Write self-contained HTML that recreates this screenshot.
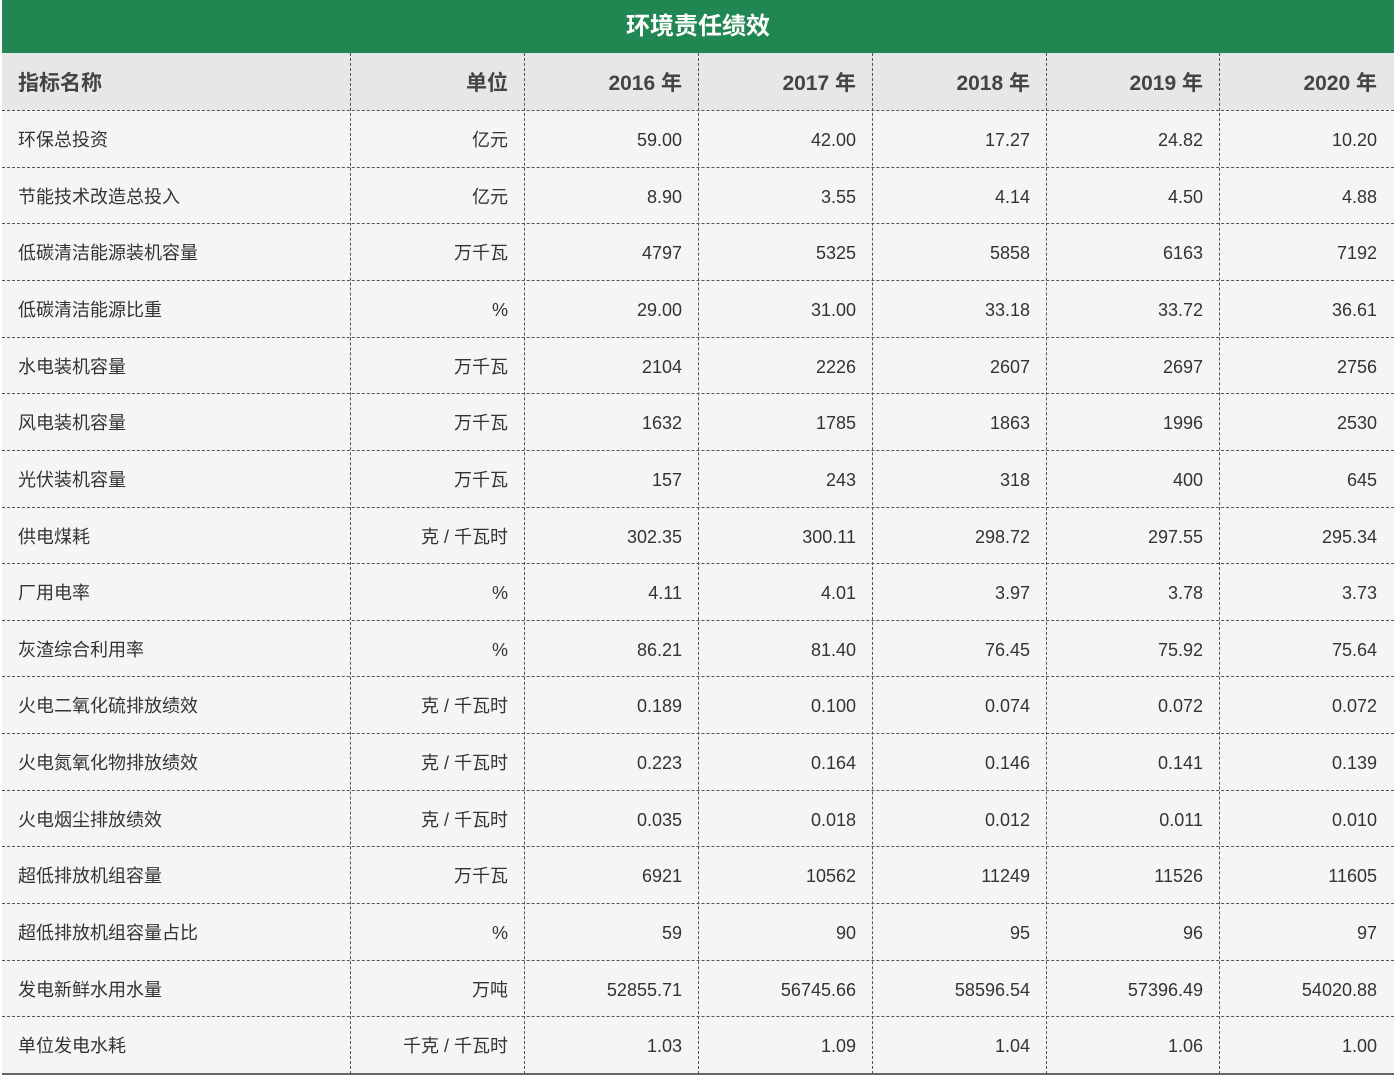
<!DOCTYPE html>
<html><head><meta charset="utf-8"><style>
body{margin:0;width:1394px;height:1080px;background:#fff;font-family:"Liberation Sans","Noto Sans CJK SC",sans-serif;color:#333;position:relative;overflow:hidden}
.t{position:absolute;left:2px;top:0;width:1392px;height:53px;background:#218752;color:#fff;font-weight:bold;font-size:24px;text-align:center;line-height:53px}
.bg{position:absolute;left:2px;width:1392px}
.c{position:absolute;font-size:18px;white-space:nowrap}
.h{font-size:21px;font-weight:bold;color:#444}
.hl{position:absolute;left:2px;width:1392px;height:0;border-top:1px dashed #555}
.vl{position:absolute;top:53px;height:1021px;width:0;border-left:1px dashed #555}
</style></head><body>
<div class="t">环境责任绩效</div>
<div class="bg" style="top:53px;height:57px;background:#e6e7e8"></div>
<div class="bg" style="top:110px;height:964px;background:#f4f6f5"></div>
<div class="bg" style="top:1073px;height:2px;background:#666"></div>
<div id="g"></div>
<script>
const cols=[2,350,524,698,872,1046,1219,1393];
const hdr=["指标名称","单位","2016 年","2017 年","2018 年","2019 年","2020 年"];
const rows=[
["环保总投资","亿元","59.00","42.00","17.27","24.82","10.20"],
["节能技术改造总投入","亿元","8.90","3.55","4.14","4.50","4.88"],
["低碳清洁能源装机容量","万千瓦","4797","5325","5858","6163","7192"],
["低碳清洁能源比重","%","29.00","31.00","33.18","33.72","36.61"],
["水电装机容量","万千瓦","2104","2226","2607","2697","2756"],
["风电装机容量","万千瓦","1632","1785","1863","1996","2530"],
["光伏装机容量","万千瓦","157","243","318","400","645"],
["供电煤耗","克 / 千瓦时","302.35","300.11","298.72","297.55","295.34"],
["厂用电率","%","4.11","4.01","3.97","3.78","3.73"],
["灰渣综合利用率","%","86.21","81.40","76.45","75.92","75.64"],
["火电二氧化硫排放绩效","克 / 千瓦时","0.189","0.100","0.074","0.072","0.072"],
["火电氮氧化物排放绩效","克 / 千瓦时","0.223","0.164","0.146","0.141","0.139"],
["火电烟尘排放绩效","克 / 千瓦时","0.035","0.018","0.012","0.011","0.010"],
["超低排放机组容量","万千瓦","6921","10562","11249","11526","11605"],
["超低排放机组容量占比","%","59","90","95","96","97"],
["发电新鲜水用水量","万吨","52855.71","56745.66","58596.54","57396.49","54020.88"],
["单位发电水耗","千克 / 千瓦时","1.03","1.09","1.04","1.06","1.00"]];
let h="";
for(let i=1;i<7;i++)h+=`<div class="vl" style="left:${cols[i]}px"></div>`;
function cell(t,j,top,hh,cls){
 if(j==0)return `<div class="c ${cls}" style="left:18px;top:${top}px;line-height:${hh}px">${t}</div>`;
 return `<div class="c ${cls}" style="right:${1394-cols[j+1]+16}px;top:${top}px;line-height:${hh}px">${t}</div>`;
}
hdr.forEach((t,j)=>h+=cell(t,j,55,57,"h"));
const rh=(1073-110)/17;
rows.forEach((r,i)=>{const top=110+i*rh;
 h+=`<div class="hl" style="top:${Math.round(top)}px"></div>`;
 r.forEach((t,j)=>h+=cell(t,j,Math.round(top)+2,Math.round(rh),""));});
document.getElementById("g").innerHTML=h;
</script>
</body></html>
